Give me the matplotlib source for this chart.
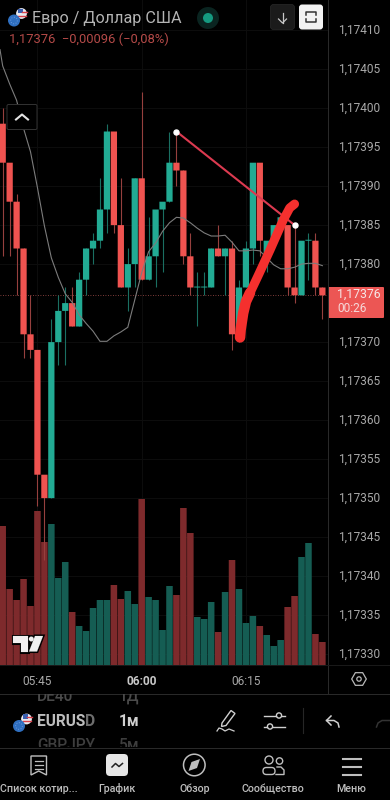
import matplotlib
matplotlib.use('Agg')
import matplotlib.pyplot as plt
from matplotlib.patches import Rectangle, FancyBboxPatch, Circle, Polygon
from matplotlib.ticker import FixedLocator, FixedFormatter
from matplotlib.transforms import ScaledTranslation
import numpy as np

plt.rcParams['font.family'] = ['Roboto', 'DejaVu Sans']

# ---- data (prices as 1.17300 + value * 0.00001) ----
BASE = 1.17300
PIP = 0.00001
opens  = [98,93,88,82,71,69,53,50,70,74,75,72,78,82,83,87,97,85,77,80,91,78,81,87,88,
          93,92,81,77,77,77,82,81,82,71,77,82,93,81,83,85,85,77,76,83,83,77]
closes = [93,88,82,71,69,53,50,70,74,75,72,78,82,83,87,97,85,77,80,91,78,81,87,88,93,
          92,81,77,77,77,82,81,82,71,77,82,93,83,83,85,86,77,76,83,83,77,76]
highs  = [100,93,89,82,76,69,53,73,76,77,77,79,82,84,91,98,97,91,82,91,102,86,87,88,97,
          97,92,84,79,79,82,85,82,83,78,83,93,93,83,85,86,85,85,83,84,84,77]
lows   = [81,81,76,68,68,49,42,50,67,67,72,72,76,80,82,84,84,77,74,77,78,78,77,79,88,
          90,80,76,72,76,77,81,76,69,70,77,80,81,79,83,85,76,75,76,78,76,73]
volumes = [139,76,65,86,59,154,123,141,87,103,53,39,34,57,65,65,80,66,74,61,166,68,65,35,79,70,157,132,
           48,46,63,33,73,105,76,42,49,39,30,19,25,58,69,108,122,31,23]
ma_index = [-0.39,0,1,2,3,4,5,6,7,8,9,10,11,12,13,14,15,16,17,18,19,20,21,22,23,24,25,26,27,28,29,30,31,32,
            33,34,35,36,37,38,39,40,41,42,43,44,45,46]
ma_line = [107.5,105.4,103.1,101,97.4,94.4,89.8,84.9,80.8,78.3,76.2,75.1,73.5,72.4,71.4,70.1,70.1,70.8,71.3,
           71.9,75.4,78.9,81.6,82.7,84.2,85.3,86,85.9,85.3,84.6,84,83.6,83.6,83.7,82.8,81.7,81.7,81.8,
           81.7,80.8,79.9,79.4,79.4,79.6,80,80.1,80.1,79.8]
vol_up = [0,0,0,0,0,0,0,1,1,1,0,1,1,1,1,1,0,0,1,1,0,1,1,1,1,0,0,0,
          1,1,1,0,1,0,1,1,1,0,1,1,1,0,0,1,1,0,0]
trend_i = [25, 42]
trend_p = [97, 85]
stroke_low_i = [34.15,34.24,34.6,35.0,35.58]
stroke_low_p = [70.6,71.6,73.7,75.2,76.3]
stroke_i = [35.0,35.58,36.8,38.46,40.37,41.3,42.0]
stroke_p = [75.2,76.3,78.6,81.8,85.65,87.2,87.7]
last_price = 76
price_ticks = [30,35,40,45,50,55,60,65,70,80,85,90,95,100,105,110]
time_pos = [5, 20, 35]
time_labels = ['05:45', '06:00', '06:15']

RED, TEAL = '#EF5350', '#22AB94'
VRED, VTEAL = '#7E2A2C', '#155D53'
TXT = '#A8A8A8'

P = lambda v: BASE + np.asarray(v, dtype=float) * PIP
n = len(opens)
idx = np.arange(n)

fig = plt.figure(figsize=(3.9, 8), dpi=100, facecolor='black')

# volume pane (same box as price pane); the faint grid stays under the bars
axv = fig.add_axes([0, 135/800, 328/390, 665/800], facecolor='black')
axv.set_xlim(-0.3885, 46.81)
axv.set_ylim(0, 665)
vb = axv.bar(idx, volumes, width=0.94, color=[VTEAL if u else VRED for u in vol_up], linewidth=0, zorder=3)
for b in vb:
    b.set_snap(False)
for s in axv.spines.values():
    s.set_visible(False)
axv.set_xticks(time_pos)
axv.set_yticks([(v - 28.6) * 7.8 for v in price_ticks])
axv.tick_params(length=0, labelbottom=False, labelleft=False)
axv.grid(True, color='#0D0D0D', lw=0.7, zorder=0)
axv.set_axisbelow(True)

# price pane
ax = fig.add_axes([0, 135/800, 328/390, 665/800], facecolor='none')
ax.set_xlim(-0.3885, 46.81)
ax.set_ylim(P(76 - 369.7/7.8), P(76 + 295.3/7.8))
for s in ax.spines.values():
    s.set_visible(False)
ax.yaxis.tick_right()
ax.yaxis.set_major_locator(FixedLocator(P(price_ticks)))
ax.yaxis.set_major_formatter(FixedFormatter([f'{BASE + v*PIP:.5f}'.replace('.', ',') for v in price_ticks]))
ax.tick_params(axis='y', length=0, pad=7, labelsize=8.6, labelcolor=TXT)
ax.xaxis.set_major_locator(FixedLocator(time_pos))
ax.xaxis.set_major_formatter(FixedFormatter(time_labels))
ax.tick_params(axis='x', length=0, pad=7, labelsize=8.6, labelcolor=TXT)
up = ScaledTranslation(0, 1.5/100, fig.dpi_scale_trans)
for t in ax.get_yticklabels():
    t.set_transform(t.get_transform() + up)
lab = ax.get_xticklabels()[1]
lab.set_fontweight('bold')
lab.set_color('#C8C8C8')

colors = [TEAL if c > o or (c == o and vol_up[i]) else RED for i, (o, c) in enumerate(zip(opens, closes))]
wick_cols = ['#1A6F62' if c == TEAL else '#96403E' for c in colors]
ax.vlines(idx, P(lows), P(highs), colors=wick_cols, lw=0.8, zorder=2)
bottoms = [min(o, c) for o, c in zip(opens, closes)]
heights = [max(abs(o - c), 0.12) for o, c in zip(opens, closes)]
cb = ax.bar(idx, np.array(heights) * PIP, bottom=P(bottoms), width=0.9, color=colors, linewidth=0, zorder=3)
for b in cb:
    b.set_snap(False)
ax.plot(ma_index, P(ma_line), color='#7C7C7C', lw=0.8, zorder=4)
ax.axhline(P(last_price), color='#A8504E', lw=0.6, ls=(0, (1, 2)), zorder=1)
ax.plot(trend_i, P(trend_p), color='#DC3A50', lw=1.5, zorder=5, solid_capstyle='round')
ax.plot(trend_i, P(trend_p), ls='none', marker='o', ms=3.6, mfc='white', mec='white', zorder=6)
ax.plot(stroke_low_i, P(stroke_low_p), color='#F5302E', lw=7.6, zorder=7, solid_capstyle='round', solid_joinstyle='round')
ax.plot(stroke_i, P(stroke_p), color='#F5302E', lw=6.5, zorder=7, solid_capstyle='round', solid_joinstyle='round')

# ---- interface layer, in pixels ----
ui = fig.add_axes([0, 0, 1, 1], facecolor='none')
ui.set_xlim(0, 390)
ui.set_ylim(800, 0)
ui.axis('off')
LINE = '#2B2B2B'
ui.plot([328, 328], [0, 693], color=LINE, lw=0.7)
ui.plot([0, 390], [665, 665], color='#1A1A1A', lw=0.7)
ui.plot([0, 390], [693.5, 693.5], color=LINE, lw=0.7)
ui.plot([0, 390], [747.5, 747.5], color=LINE, lw=0.7)

def flags(cx, cy):
    ui.add_patch(Circle((cx + 7.5, cy - 7), 5.4, color='#E8E8EE', lw=0))
    ui.add_patch(Rectangle((cx + 3.5, cy - 12), 5, 4.5, color='#3A5FB0', lw=0))
    ui.plot([cx + 8, cx + 12.5], [cy - 9, cy - 9], color='#D8404A', lw=1)
    ui.plot([cx + 4, cx + 12], [cy - 5, cy - 5], color='#D8404A', lw=1)
    ui.add_patch(Circle((cx, cy), 6, color='#2F6FC0', lw=0, zorder=3))
    ui.add_patch(Circle((cx, cy), 3.3, fill=False, ec='#6C9ADB', lw=0.7, ls=':', zorder=4))

# header
flags(14, 20.5)
ui.text(31.5, 18, 'Евро / Доллар США', color='#B4B4B4', fontsize=11.6, va='center', ha='left')
ui.text(9, 39, '1,17376  −0,00096 (−0,08%)', color='#B44A48', fontsize=9.4, va='center', ha='left')
ui.add_patch(Circle((208, 18), 11, color='#0A2420', lw=0))
ui.add_patch(Circle((208, 18), 5, color='#159A80', lw=0))
ui.add_patch(FancyBboxPatch((272, 6), 21, 22, boxstyle='round,pad=1.5,rounding_size=3', fc='#1B1B1B', ec='#2A2A2A', lw=0.5))
ui.plot([282.5, 282.5], [13, 23], color='#C8C8C8', lw=0.9)
ui.plot([278.5, 282.5, 286.5], [19, 23, 19], color='#C8C8C8', lw=0.9)
ui.add_patch(FancyBboxPatch((300.5, 6), 21, 22, boxstyle='round,pad=1.5,rounding_size=3', fc='#F2F2F2', ec='none'))
ui.plot([306, 306, 316, 316], [15, 12, 12, 15], color='#333333', lw=1.1)
ui.plot([306, 306, 316, 316], [19, 22, 22, 19], color='#333333', lw=1.1)
# collapse button
ui.add_patch(FancyBboxPatch((7, 104.5), 30, 25, boxstyle='round,pad=0,rounding_size=1.5', fc='black', ec='#333333', lw=0.7, zorder=8))
ui.plot([16, 22, 28], [119.5, 114.5, 119.5], color='#E4E4E4', lw=1.5, zorder=9)

# price tag
ui.add_patch(FancyBboxPatch((328, 287), 56, 31, boxstyle='round,pad=0,rounding_size=1', fc='#EC5654', ec='none'))
ui.text(337, 294.5, '1,17376', color='#F6E6E6', fontsize=8.8, ha='left', va='center')
ui.text(337, 308.5, '00:26', color='#F6D8D8', fontsize=8.6, ha='left', va='center')

# settings hexagon
ang = np.deg2rad(np.arange(0, 360, 60))
ui.add_patch(Polygon(np.c_[359 + 7.3*np.cos(ang), 679 + 7.3*np.sin(ang)], closed=True, fill=False, ec='#B8B8B8', lw=0.9))
ui.add_patch(Circle((359, 679), 2.2, fill=False, ec='#B8B8B8', lw=0.9))

# TradingView logo
LOGO = '#F0F0F0'
for lw_, col, z in [(2.2, 'black', 8), (0.1, LOGO, 9)]:
    ui.add_patch(Polygon([(12.5, 636), (28, 636), (28, 651.5), (20.5, 651.5), (20.5, 643), (12.5, 643)],
                         closed=True, fc=LOGO, ec=col, lw=lw_, zorder=z))
    ui.add_patch(Polygon([(35, 636), (43, 636), (37, 651.5), (29, 651.5)], closed=True, fc=LOGO, ec=col, lw=lw_, zorder=z))
    ui.add_patch(Circle((31.3, 639), 2.4, fc=LOGO, ec=col, lw=lw_, zorder=z))

# symbol bar
flags(19, 726)
clip = Rectangle((0, 694), 390, 53, transform=ui.transData)
for txt, x, y, col, w in [('DE40', 37, 696.5, '#4A4A4A', 'medium'), ('1Д', 119, 696.5, '#4A4A4A', 'medium'),
                          ('GBPJPY', 37, 745, '#3E3E3E', 'medium'), ('5м', 119, 745, '#3E3E3E', 'medium'),
                          ('EURUS', 37, 721, '#BDBDBD', 'bold'), ('1м', 119, 721, '#CFCFCF', 'bold')]:
    t = ui.text(x, y, txt, color=col, fontsize=11.2, fontweight=w, va='center', ha='left')
    t.set_clip_path(clip)
    t.set_clip_on(True)
ui.text(85, 721, 'D', color='#6E6E6E', fontsize=11.2, fontweight='bold', va='center', ha='left')

# pencil
ICON = '#D0D0D0'
ui.add_patch(Polygon([(222, 723), (231, 710.5), (235, 713.5), (226, 725.5), (221.5, 726.5)], closed=True, fill=False, ec=ICON, lw=1))
ui.plot([217, 219, 222, 225, 229, 234], [731, 728, 729, 731, 729, 731], color=ICON, lw=0.9)
# sliders
ui.plot([264, 276], [715.5, 715.5], color=ICON, lw=1)
ui.plot([282, 285], [715.5, 715.5], color=ICON, lw=1)
ui.add_patch(Circle((279, 715.5), 2.6, fill=False, ec=ICON, lw=1))
ui.plot([264, 267], [726.5, 726.5], color=ICON, lw=1)
ui.plot([273, 285], [726.5, 726.5], color=ICON, lw=1)
ui.add_patch(Circle((270, 726.5), 2.6, fill=False, ec=ICON, lw=1))
ui.plot([303, 303], [708, 733], color='#262626', lw=0.8)
# undo
ui.plot([331, 326.5, 331], [716, 720.5, 725], color=ICON, lw=1.1)
ui.plot([326.5, 334, 338, 339], [720.5, 720.5, 723, 727], color=ICON, lw=1.1)
ui.plot([376.5, 378, 382, 390], [727, 723, 720.5, 720.5], color='#333333', lw=1.1)

# bottom navigation
NAV = '#BEBEBE'
ui.add_patch(Polygon([(31, 756), (46.5, 756), (46.5, 775), (38.7, 771), (31, 775)], closed=True, fill=False, ec=NAV, lw=1))
for yy in [761, 765, 769]:
    ui.plot([34.5, 43], [yy, yy], color=NAV, lw=0.9)
ui.add_patch(FancyBboxPatch((109, 757), 16, 16, boxstyle='round,pad=3,rounding_size=4', fc='#E6E6E6', ec='none'))
ui.plot([112, 115.5, 119, 122.5], [767, 763.5, 766.5, 763.5], color='#222222', lw=1.1)
ui.add_patch(Circle((194.3, 765), 10.8, fill=False, ec=NAV, lw=1.1))
ui.add_patch(Polygon([(200, 759), (197, 768), (188.5, 771), (191.5, 762)], closed=True, fc=NAV, ec='none'))
ui.add_patch(Circle((269, 760), 4, fill=False, ec=NAV, lw=1))
ui.add_patch(Circle((279.5, 761), 3.2, fill=False, ec=NAV, lw=1))
ui.add_patch(FancyBboxPatch((263, 767.5), 12, 7, boxstyle='round,pad=0,rounding_size=3.4', fill=False, ec=NAV, lw=1))
ui.plot([277, 281, 284, 284, 276], [767, 767, 770, 774.5, 774.5], color=NAV, lw=1)
for yy in [759, 767, 774.5]:
    ui.plot([342.5, 360.5], [yy, yy], color=NAV, lw=1.5)
for txt, x, ha in [('Список котир...', 0.5, 'left'), ('График', 117, 'center'), ('Обзор', 194.5, 'center'),
                   ('Сообщество', 273, 'center'), ('Меню', 351, 'center')]:
    ui.text(x, 789, txt, color=NAV, fontsize=7.7, fontweight='medium', ha=ha, va='center')

fig.savefig('out.png', dpi=100, facecolor='black')
